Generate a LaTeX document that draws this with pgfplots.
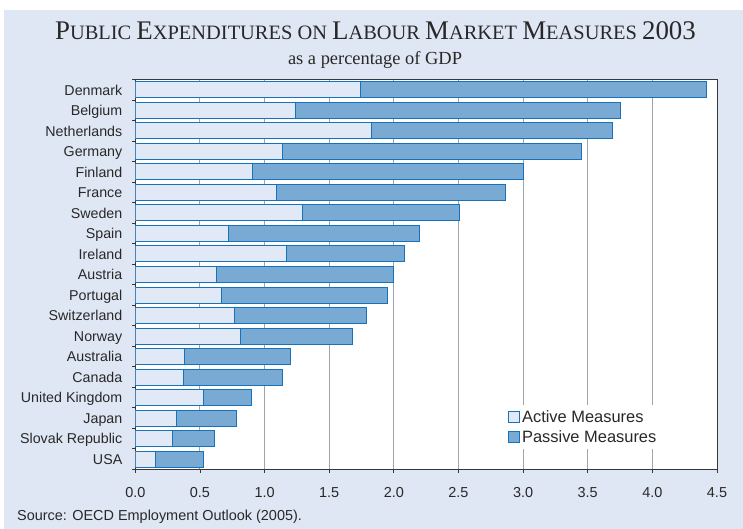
\documentclass[border=0pt]{standalone}
\usepackage{pgfplots}
\pgfplotsset{compat=1.18}
\usepackage{pgfplotstable}
\usepackage{fontspec}
\setmainfont{Liberation Sans}
\newfontfamily\tnr{Liberation Serif}
\definecolor{bgpanel}{RGB}{224,231,244}
\definecolor{actfill}{RGB}{226,233,246}
\definecolor{passfill}{RGB}{121,170,212}
\definecolor{barblue}{RGB}{22,114,186}
\definecolor{gridgray}{RGB}{160,164,170}
\definecolor{axisdark}{RGB}{55,55,55}
\definecolor{txt}{RGB}{40,40,40}

\pgfplotstableread{
idx active passive
18 1.74 2.68
17 1.24 2.51
16 1.83 1.86
15 1.14 2.31
14 0.91 2.09
13 1.09 1.77
12 1.29 1.22
11 0.72 1.48
10 1.17 0.91
9 0.63 1.37
8 0.67 1.28
7 0.77 1.02
6 0.81 0.87
5 0.38 0.82
4 0.37 0.77
3 0.53 0.37
2 0.32 0.46
1 0.29 0.32
0 0.16 0.37
}\datatable

\newcommand{\B}[1]{{\fontsize{27}{27}\selectfont #1}}
\newcommand{\Sm}[1]{{\fontsize{20.5}{20.5}\selectfont #1}}

\begin{document}
\begin{tikzpicture}
\useasboundingbox (0bp,0bp) rectangle (743bp,529bp);
\fill[white] (0bp,0bp) rectangle (743bp,529bp);
\fill[bgpanel] (4bp,0bp) rectangle (743bp,519bp);
\node[anchor=base, inner sep=0pt, text=txt] at (375.5bp,489bp) {\tnr\fontsize{20.5}{20.5}\selectfont \B{P}\Sm{UBLIC} \B{E}\Sm{XPENDITURES} \Sm{ON} \B{L}\Sm{ABOUR} \B{M}\Sm{ARKET} \B{M}\Sm{EASURES} \B{2003}};
\node[anchor=base, inner sep=0pt, text=txt] at (375bp,464.7bp) {\tnr\fontsize{18.5}{18.5}\selectfont as a percentage of GDP};
\node[anchor=base west, inner sep=0pt, text=txt] at (17bp,9bp) {\fontsize{14.5}{14.5}\selectfont Source: OECD Employment Outlook (2005).};
\begin{axis}[
  at={(135.3bp,59.7bp)}, anchor=south west,
  scale only axis, width=581.7bp, height=389.6bp,
  xbar stacked, bar width=16bp,
  xmin=0, xmax=4.5, ymin=-0.5, ymax=18.5,
  xtick={0,0.5,...,4.5},
  xticklabels={0.0,0.5,1.0,1.5,2.0,2.5,3.0,3.5,4.0,4.5},
  ytick={-0.5,0.5,...,18.5},
  y tick label as interval,
  yticklabels={USA,Slovak Republic,Japan,United Kingdom,Canada,Australia,Norway,Switzerland,Portugal,Austria,Ireland,Spain,Sweden,France,Finland,Germany,Netherlands,Belgium,Denmark},
  tick align=outside, major tick length=3.5bp,
  xtick pos=bottom, ytick pos=left,
  tick style={axisdark, line width=0.8bp},
  axis line style={axisdark, line width=0.9bp},
  xmajorgrids, ymajorgrids=false,
  major x grid style={gridgray, line width=0.9bp},
  axis background/.style={fill=white},
  ticklabel style={text=txt},
  xticklabel style={font=\fontsize{14.5}{14.5}\selectfont, yshift=-11bp},
  yticklabel style={font=\fontsize{14.3}{14.3}\selectfont, xshift=-6bp, text height=10.3bp, text depth=0bp},
  legend style={at={(0.635,0.165)}, anchor=north west, fill=white, draw=none,
    font=\fontsize{16.5}{16.5}\selectfont, text=txt, row sep=3bp, inner sep=3bp,
    legend cell align=left},
  legend image code/.code={\draw[#1, line width=1.2bp] (0bp,-5.5bp) rectangle (11bp,5.5bp);},
]
\addplot[fill=actfill, draw=barblue, line width=1bp] table[x=active, y=idx] {\datatable};
\addplot[fill=passfill, draw=barblue, line width=1bp] table[x=passive, y=idx] {\datatable};
\legend{Active Measures, Passive Measures}
\end{axis}
\end{tikzpicture}
\end{document}
